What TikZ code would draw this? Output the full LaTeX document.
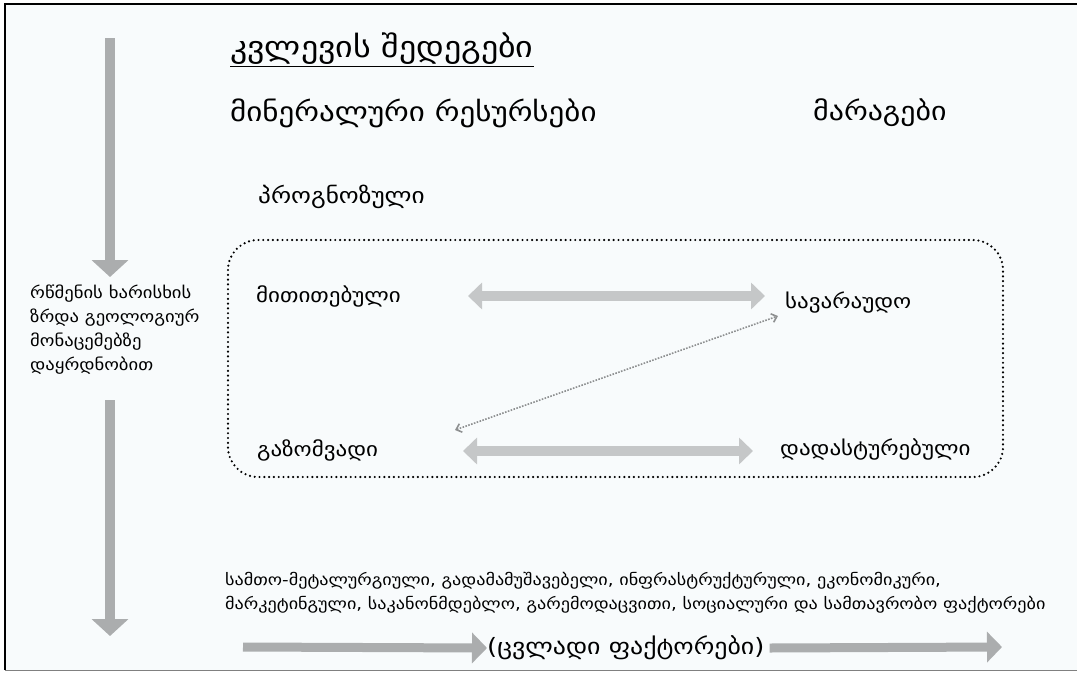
\documentclass[tikz,border=0pt]{standalone}
\usepackage{fontspec}
\setmainfont[FakeStretch=1.15]{DejaVu Sans}
\usetikzlibrary{arrows.meta}
\definecolor{bg}{HTML}{F8FBFC}
\definecolor{arrowgray}{HTML}{ABADAE}
\definecolor{lightarrow}{HTML}{C5C7C8}
\definecolor{dotgray}{HTML}{8E9091}
\tikzset{
  txt/.style={anchor=west, inner sep=0pt, text=black},
  lbl/.style={txt, font=\fontsize{20}{24}\selectfont},
  vblock/.style={draw=arrowgray, line width=10pt, -{Triangle[width=36pt,length=17pt]}},
  hblock/.style={draw=arrowgray, line width=9pt, -{Triangle[width=30pt,length=15pt]}},
  dblock/.style={draw=lightarrow, line width=10pt, {Triangle[width=26pt,length=14pt]}-{Triangle[width=26pt,length=14pt]}},
  dotline/.style={draw=dotgray, line width=1.6pt, dash pattern=on 1.6pt off 1.4pt, {Straight Barb[length=5pt,width=9pt]}-{Straight Barb[length=5pt,width=9pt]}},
  groupbox/.style={draw=black, line width=2.4pt, line cap=round, dash pattern=on 0pt off 4.8pt, rounded corners=30pt}
}
\begin{document}
\begin{tikzpicture}[x=1pt,y=-1pt]
\useasboundingbox (0,0) rectangle (1077,673);
\fill[bg] (5,4) rectangle (1077,670);
\draw[black, line width=1.5pt] (5,670) -- (5,4) -- (1077,4);
\draw[gray, line width=1pt] (5,670) -- (1077,670);

% titles
\node[txt, font=\fontsize{29.5}{34}\selectfont] (title) at (230,50) {\underline{კვლევის შედეგები}};
\node[txt, font=\fontsize{27}{32}\selectfont] (minres) at (230,113) {მინერალური რესურსები};
\node[txt, font=\fontsize{26}{32}\selectfont] (marag) at (813,113) {მარაგები};
\node[txt, font=\fontsize{22}{28}\selectfont] (prog) at (258,197) {პროგნოზული};

% left text
\node[anchor=north west, inner sep=0pt, align=left, font=\fontsize{16.2}{24}\selectfont] (conf) at (30,285)
  {რწმენის ხარისხის\\ზრდა გეოლოგიურ\\მონაცემებზე\\დაყრდნობით};

% box
\draw[groupbox] (228,240) rectangle (1003,477);

\node[lbl] (indic) at (256,296) {მითითებული};
\node[lbl] (prob) at (785,303) {სავარაუდო};
\node[lbl] (meas) at (257,450) {გაზომვადი};
\node[lbl] (prov) at (780,449) {დადასტურებული};

% double arrows
\coordinate (d1a) at (468,296);
\coordinate (d1b) at (765,296);
\coordinate (d2a) at (463,451);
\coordinate (d2b) at (753,451);
\draw[dblock] (d1a) -- (d1b);
\draw[dblock] (d2a) -- (d2b);

% dotted diagonal
\coordinate (g1) at (455,430);
\coordinate (g2) at (778,316);
\draw[dotline] (g1) -- (g2);

% vertical arrows
\coordinate (v1a) at (110,38);
\coordinate (v1b) at (110,277);
\coordinate (v2a) at (110,400);
\coordinate (v2b) at (110,636);
\draw[vblock] (v1a) -- (v1b);
\draw[vblock] (v2a) -- (v2b);

% bottom text
\node[anchor=north west, inner sep=0pt, align=left, font=\fontsize{15.8}{24}\selectfont] (factors) at (225,572)
  {სამთო-მეტალურგიული, გადამამუშავებელი, ინფრასტრუქტურული, ეკონომიკური,\\მარკეტინგული, საკანონმდებლო, გარემოდაცვითი, სოციალური და სამთავრობო ფაქტორები};

\node[txt, font=\fontsize{22.5}{26}\selectfont] (var) at (487,648) {(ცვლადი ფაქტორები)};

\coordinate (b1a) at (243,647);
\coordinate (b2b) at (1002,647);
\draw[hblock] (b1a) -- (var.west);
\draw[hblock] ([xshift=5pt]var.east) -- (b2b);
\end{tikzpicture}
\end{document}
